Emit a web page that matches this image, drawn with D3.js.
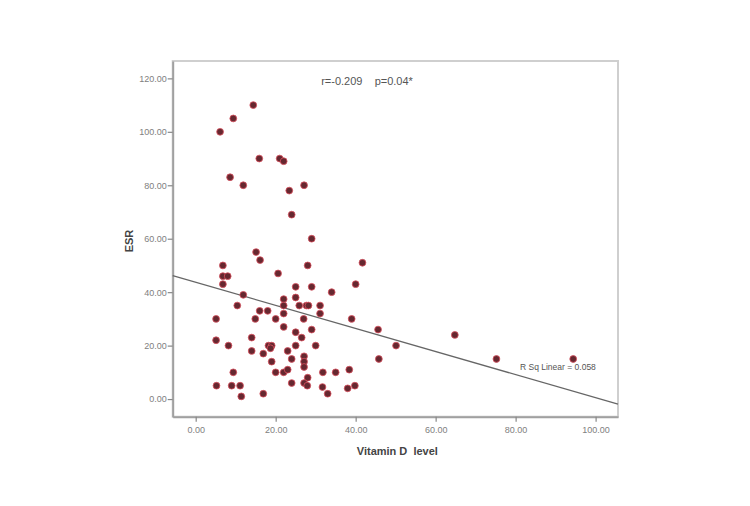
<!DOCTYPE html>
<html>
<head>
<meta charset="utf-8">
<script src="https://cdn.jsdelivr.net/npm/d3@7"></script>
<style>
  body { margin: 0; background: #fff; }
  svg { display: block; font-family: Arial, "Liberation Sans", sans-serif; }
</style>
</head>
<body>
<svg id="svg" width="750" height="506"></svg>
<script>
// vitamin D level vs ESR
var vitD = [14.4, 9.4, 6.1, 15.9, 21, 22, 8.6, 11.9, 23.4, 27.1,
  24, 29, 15.1, 16.1, 6.8, 28, 41.7, 6.8, 8, 20.6,
  6.8, 40, 25, 29, 34, 11.9, 22, 25, 22, 10.4,
  25.9, 27.7, 28.2, 31.1, 16, 18, 22, 31.1, 5.1, 14.9,
  20, 27, 39, 22, 29, 45.6, 25, 64.8, 14, 26.5,
  5.1, 8.2, 18.2, 19, 18.7, 25, 30, 50.1, 14, 23,
  16.9, 27.1, 24, 45.8, 75.2, 94.4, 19, 27.1, 27.1, 9.4,
  20, 22, 23, 31.8, 35, 38.4, 28, 24, 27.1, 27.9,
  5.2, 9, 11.1, 31.7, 38, 39.8, 11.4, 16.9, 33];
var esr = [110, 105, 100, 90, 90, 89, 83, 80, 78, 80,
  69, 60, 55, 52, 50, 50, 51, 46, 46, 47,
  43, 43, 42, 42, 40, 39, 37.4, 38, 35, 35,
  35, 35, 35, 35, 33, 33, 32, 32, 30, 30,
  30, 30, 30, 27, 26, 26, 25, 24, 23, 23,
  22, 20, 20, 20, 19, 20, 20, 20, 18, 18,
  17, 16, 15, 15, 15, 15, 14, 14, 12, 10,
  10, 10, 11, 10, 10, 11, 8, 6, 6, 5,
  5, 5, 5, 4.5, 4, 5, 1, 2, 2];

var xTicks = [0, 20, 40, 60, 80, 100];
var yTicks = [0, 20, 40, 60, 80, 100, 120];

// fit line as printed by spss
var fitIntercept = 43.7, fitSlope = -0.432;
var statsText = "r=-0.209    p=0.04*";
var rsqText = "R Sq Linear = 0.058";

var points = vitD.map(function(v, i) { return {x: v, y: esr[i]}; });

// plot box in pixels (window.top is taken, so prefix these)
var pLeft = 172.7, pRight = 618, pTop = 61, pBottom = 416.7;

var x = d3.scaleLinear().domain([-5.75, 105.6]).range([pLeft, pRight]);
var y = d3.scaleLinear().domain([-6.6, 126.5]).range([pBottom, pTop]);

var svg = d3.select("svg");

// plot frame
svg.append("rect")
  .attr("x", pLeft).attr("y", pTop)
  .attr("width", pRight - pLeft).attr("height", pBottom - pTop)
  .attr("fill", "#fff")
  .attr("stroke", "#cfcfcf")
  .attr("stroke-width", 2);

var fmt = d3.format(".2f");

var yAxis = svg.append("g")
  .attr("transform", "translate(" + pLeft + ",0)")
  .call(d3.axisLeft(y).tickValues(yTicks).tickFormat(fmt).tickSize(5).tickPadding(1).tickSizeOuter(0));

var xAxis = svg.append("g")
  .attr("transform", "translate(0," + pBottom + ")")
  .call(d3.axisBottom(x).tickValues(xTicks).tickFormat(fmt).tickSize(5).tickPadding(5).tickSizeOuter(0));

[yAxis, xAxis].forEach(function(g) {
  g.select(".domain").attr("stroke", "#a0a0a0").attr("stroke-width", 2);
  g.selectAll(".tick line").attr("stroke", "#888").attr("stroke-width", 1.2);
  g.selectAll(".tick text").attr("fill", "#808080").style("font-size", "9px");
});

// regression line
var x0 = x.domain()[0], x1 = x.domain()[1];
svg.append("line")
  .attr("x1", x(x0)).attr("y1", y(fitIntercept + fitSlope * x0))
  .attr("x2", x(x1)).attr("y2", y(fitIntercept + fitSlope * x1))
  .attr("stroke", "#666")
  .attr("stroke-width", 1.3);

svg.selectAll("circle.pt")
  .data(points)
  .enter().append("circle")
  .attr("class", "pt")
  .attr("cx", function(d) { return x(d.x); })
  .attr("cy", function(d) { return y(d.y); })
  .attr("r", 3.4)
  .attr("fill", "#662830")
  .attr("stroke", "#d9505e")
  .attr("stroke-opacity", 0.8)
  .attr("stroke-width", 1);

svg.append("text")
  .attr("x", 367).attr("y", 84.5)
  .attr("text-anchor", "middle")
  .attr("fill", "#555")
  .style("font-size", "11px")
  .style("white-space", "pre")
  .attr("xml:space", "preserve")
  .text(statsText);

svg.append("text")
  .attr("x", 520).attr("y", 370)
  .attr("fill", "#555")
  .style("font-size", "8.5px")
  .text(rsqText);

svg.append("text")
  .attr("x", (pLeft + pRight) / 2 + 2).attr("y", 455)
  .attr("text-anchor", "middle")
  .attr("fill", "#444")
  .style("font-size", "11px")
  .style("font-weight", "bold")
  .style("white-space", "pre")
  .attr("xml:space", "preserve")
  .text("Vitamin D  level");

svg.append("text")
  .attr("transform", "translate(133,241) rotate(-90)")
  .attr("text-anchor", "middle")
  .attr("fill", "#444")
  .style("font-size", "11px")
  .style("font-weight", "bold")
  .text("ESR");
</script>
</body>
</html>
